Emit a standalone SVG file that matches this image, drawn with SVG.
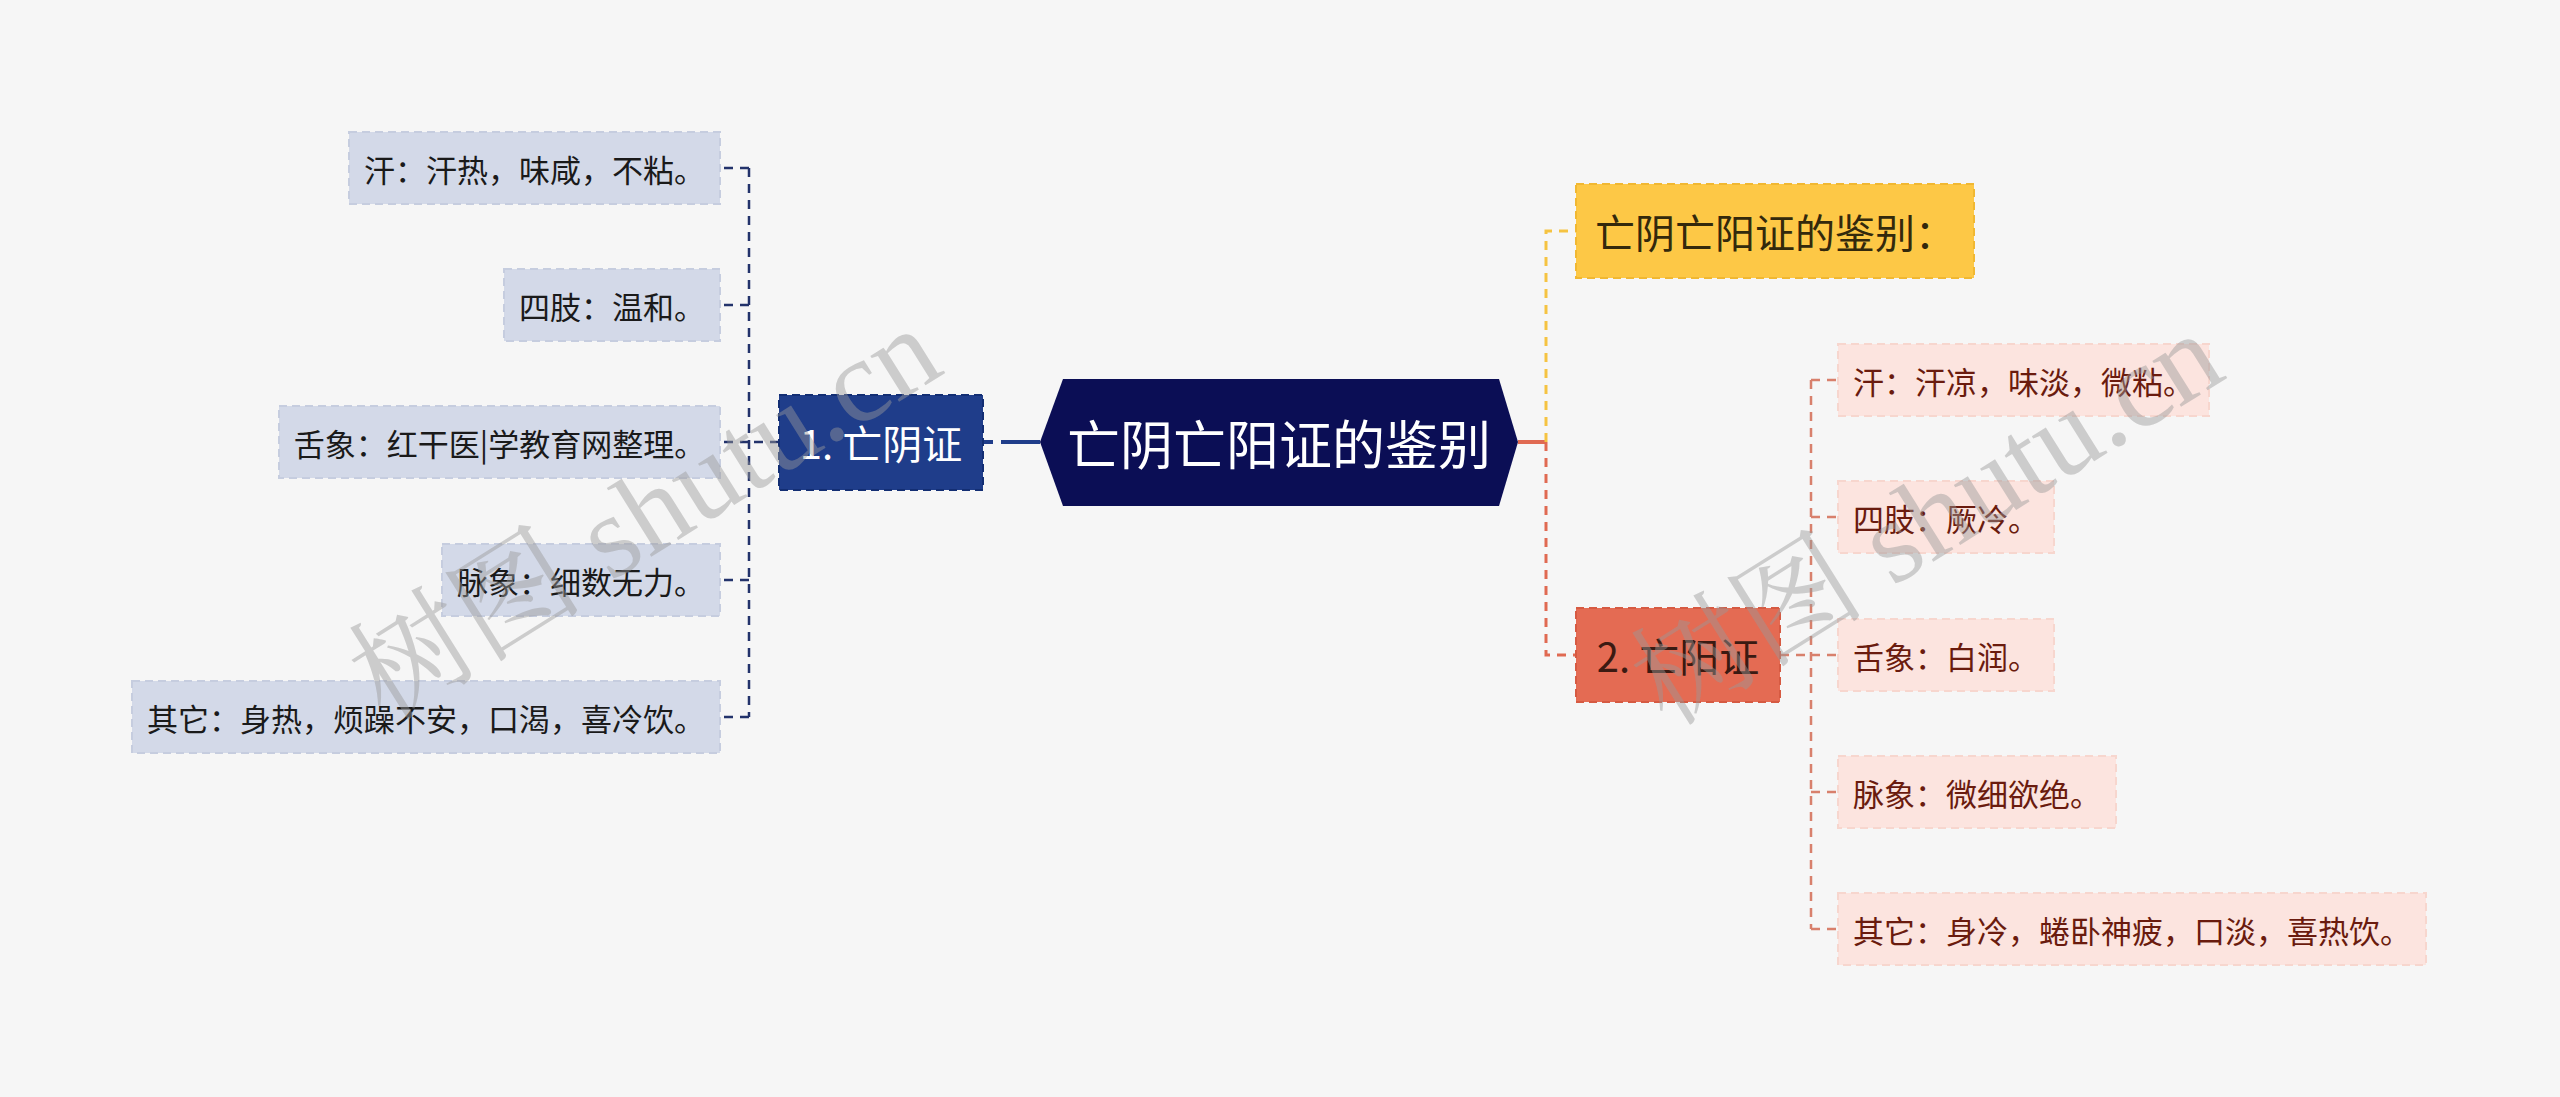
<svg xmlns="http://www.w3.org/2000/svg" width="2560" height="1097" viewBox="0 0 2560 1097">
<style>
text{font-family:"Noto Sans CJK SC","Noto Sans",sans-serif;text-anchor:middle;dominant-baseline:central}
.lc rect{fill:#d3d9e8;stroke:#c6cddf;stroke-width:2;stroke-dasharray:8 5}
.lc text{font-size:31px;fill:#1a1a1a}
.rc rect{fill:#fce4df;stroke:#f7d6ce;stroke-width:2;stroke-dasharray:8 5}
.rc text{font-size:31px;fill:#6a1b0e}
.l1 text{font-size:40px}
.conn path{fill:none;stroke-width:2.5;stroke-dasharray:9 7}
.wm{font-family:"Liberation Serif","Noto Serif CJK SC","Noto Sans CJK SC",serif;font-size:118px;fill:#9a9a9a;fill-opacity:0.45;text-anchor:middle;dominant-baseline:central}
</style>
<rect width="2560" height="1097" fill="#f6f6f6"/>
<g id="connectors" class="conn">
  <path d="M779 442 H749 M749 168 V717 M749 168 H720 M749 305 H720 M749 442 H720 M749 580 H720 M749 717 H720" stroke="#23336b"/>
  <path d="M983 442 H1040" stroke="#1f3d8a" style="stroke-width:4;stroke-dasharray:10 8 60"/>
  <path d="M1518 442 H1546" stroke="#e06a52" style="stroke-width:4;stroke-dasharray:none"/>
  <path d="M1546 442 V231 H1576" stroke="#f5c342" style="stroke-width:3"/>
  <path d="M1546 442 V655 H1576" stroke="#e06a52" style="stroke-width:3"/>
  <path d="M1780 655 H1811 M1811 380 V929 M1811 380 H1838 M1811 517 H1838 M1811 655 H1838 M1811 792 H1838 M1811 929 H1838" stroke="#d8806c"/>
</g>
<g id="root">
  <polygon points="1040,442 1063,379 1499,379 1518,442 1499,506 1063,506" fill="#0b0e55"/>
  <text x="1279" y="442" font-size="53" fill="#ffffff">亡阴亡阳证的鉴别</text>
</g>
<g id="n1" class="l1">
  <rect x="779" y="395" width="204" height="95" fill="#1f3d8a" stroke="#132e73" stroke-width="2" stroke-dasharray="8 5"/>
  <text x="881" y="442" fill="#ffffff">1. 亡阴证</text>
</g>
<g id="n2" class="l1">
  <rect x="1576" y="184" width="398" height="94" fill="#fdc846" stroke="#f1b832" stroke-width="2" stroke-dasharray="8 5"/>
  <text x="1775" y="231" fill="#33290c">亡阴亡阳证的鉴别：</text>
</g>
<g id="n3" class="l1">
  <rect x="1576" y="608" width="204" height="94" fill="#e46b53" stroke="#d65a42" stroke-width="2" stroke-dasharray="8 5"/>
  <text x="1678" y="655" fill="#3b1a12">2. 亡阳证</text>
</g>
<g id="l_c1" class="lc"><rect x="349" y="132" width="371" height="72"/><text x="534.5" y="168">汗：汗热，味咸，不粘。</text></g>
<g id="l_c2" class="lc"><rect x="504" y="269" width="216" height="72"/><text x="612" y="305">四肢：温和。</text></g>
<g id="l_c3" class="lc"><rect x="279" y="406" width="441" height="72"/><text x="499.5" y="442">舌象：红干医|学教育网整理。</text></g>
<g id="l_c4" class="lc"><rect x="442" y="544" width="278" height="72"/><text x="581" y="580">脉象：细数无力。</text></g>
<g id="l_c5" class="lc"><rect x="132" y="681" width="588" height="72"/><text x="426" y="717">其它：身热，烦躁不安，口渴，喜冷饮。</text></g>
<g id="r_c1" class="rc"><rect x="1838" y="344" width="371" height="72"/><text x="2023.5" y="380">汗：汗凉，味淡，微粘。</text></g>
<g id="r_c2" class="rc"><rect x="1838" y="481" width="216" height="72"/><text x="1946" y="517">四肢：厥冷。</text></g>
<g id="r_c3" class="rc"><rect x="1838" y="619" width="216" height="72"/><text x="1946" y="655">舌象：白润。</text></g>
<g id="r_c4" class="rc"><rect x="1838" y="756" width="278" height="72"/><text x="1977" y="792">脉象：微细欲绝。</text></g>
<g id="r_c5" class="rc"><rect x="1838" y="893" width="588" height="72"/><text x="2132" y="929">其它：身冷，蜷卧神疲，口淡，喜热饮。</text></g>
<text class="wm" transform="translate(645 514) rotate(-32)">树图 shutu.cn</text>
<text class="wm" transform="translate(1927 519) rotate(-32)">树图 shutu.cn</text>
</svg>
